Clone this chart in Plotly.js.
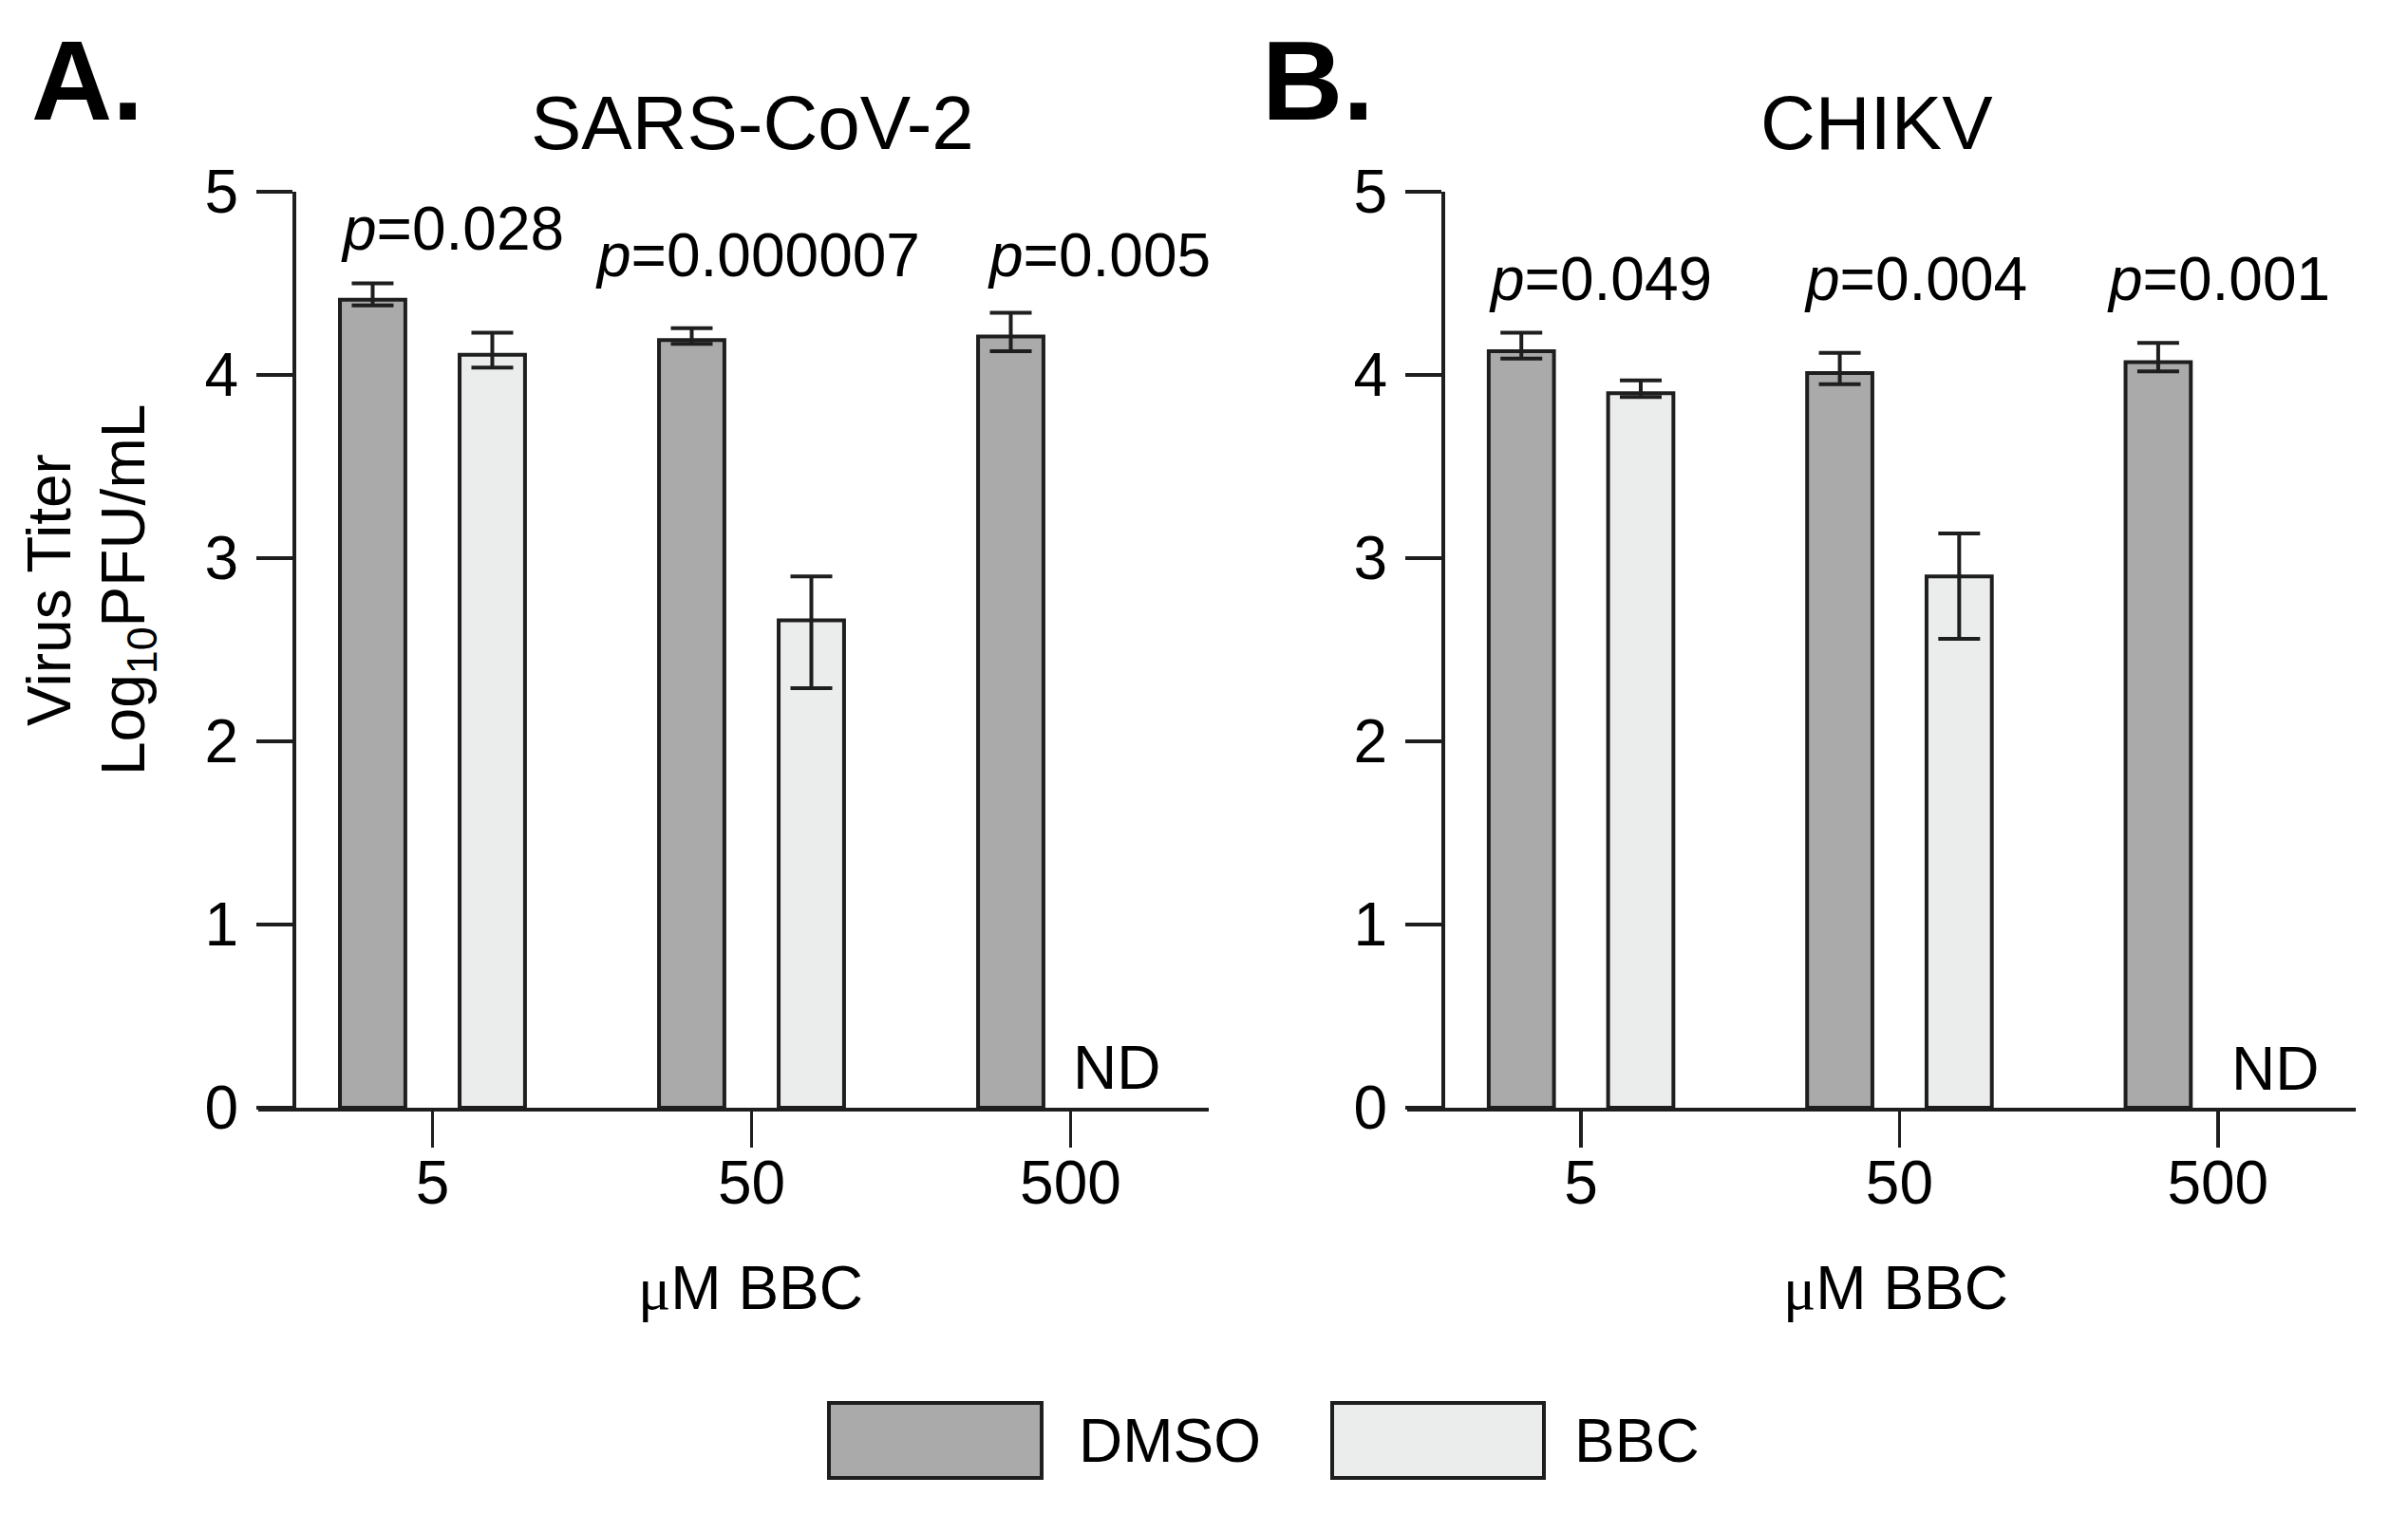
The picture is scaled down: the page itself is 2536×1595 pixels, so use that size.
<!DOCTYPE html>
<html>
<head>
<meta charset="utf-8">
<script src="https://cdn.plot.ly/plotly-3.0.1.min.js"></script>
<style>html,body{margin:0;padding:0;background:#fff;}#chart{width:2536px;height:1595px;}</style>
</head>
<body>
<div id="chart"></div>
<script>
// ---- data ----
const categories = ['5', '50', '500'];
const seriesNames = ['DMSO', 'BBC'];

const sarsDMSO      = [4.41, 4.19, 4.21];
const sarsDMSOUp    = [0.09, 0.065, 0.13];
const sarsDMSODown  = [0.03, 0.02, 0.08];
const sarsBBC       = [4.11, 2.66, null];
const sarsBBCUp     = [0.12, 0.24, null];
const sarsBBCDown   = [0.07, 0.37, null];
const sarsP         = ['0.028', '0.000007', '0.005'];

const chikDMSO      = [4.13, 4.01, 4.07];
const chikDMSOUp    = [0.10, 0.11, 0.105];
const chikDMSODown  = [0.04, 0.06, 0.05];
const chikBBC       = [3.90, 2.90, null];
const chikBBCUp     = [0.07, 0.235, null];
const chikBBCDown   = [0.02, 0.34, null];
const chikP         = ['0.049', '0.004', '0.001'];

const panelTitles = ['SARS-CoV-2', 'CHIKV'];
const panelLetters = ['A.', 'B.'];
const xTitle = '<span style="font-family:\'Liberation Serif\',serif">\u03bc</span>M BBC';
const yTitleLine1 = 'Virus Titer';
const yTitleLine2 = 'Log<sub>10</sub>PFU/mL';
const ndLabel = 'ND';

// ---- style ----
const W = 2536, H = 1595;
const FONT = 'Arial, "Liberation Sans", Helvetica, sans-serif';
const INK = '#1e1e1e';
const colDMSO = '#aaaaaa';
const colBBC = '#ebedec';
const px = v => v / W;
const py = v => 1 - v / H;

const barW = 0.205;
const offDMSO = -0.29;
const offBBC = 0.085;

function barTrace(name, y, up, down, color, xa, ya, off) {
  return {
    type: 'bar', name: name, x: categories, y: y,
    xaxis: xa, yaxis: ya, width: barW, offset: off,
    marker: {color: color, line: {color: INK, width: 4}},
    error_y: {type: 'data', symmetric: false, array: up, arrayminus: down,
              color: INK, thickness: 4, width: 22, visible: true},
    showlegend: false, hoverinfo: 'skip'
  };
}

const data = [
  barTrace(seriesNames[0], sarsDMSO, sarsDMSOUp, sarsDMSODown, colDMSO, 'x', 'y', offDMSO),
  barTrace(seriesNames[1], sarsBBC, sarsBBCUp, sarsBBCDown, colBBC, 'x', 'y', offBBC),
  barTrace(seriesNames[0], chikDMSO, chikDMSOUp, chikDMSODown, colDMSO, 'x2', 'y2', offDMSO),
  barTrace(seriesNames[1], chikBBC, chikBBCUp, chikBBCDown, colBBC, 'x2', 'y2', offBBC)
];

const tickFont = {family: FONT, size: 64, color: '#000'};
const xRange = [-0.546, 2.433];

function xAxis(domain, anchor) {
  return {
    domain: domain, anchor: anchor, type: 'category', range: xRange,
    showline: true, linecolor: INK, linewidth: 4,
    ticks: 'outside', ticklen: 38, tickwidth: 3.5, tickcolor: INK,
    tickfont: tickFont, showgrid: false, zeroline: false,
    fixedrange: true, ticklabelstandoff: -18
  };
}
function yAxis(pos) {
  return {
    domain: [py(1167), py(202)], anchor: 'free', position: pos,
    range: [0, 5], tickvals: [0, 1, 2, 3, 4, 5],
    showline: true, linecolor: INK, linewidth: 3.5,
    ticks: 'outside', ticklen: 38, tickwidth: 3.5, tickcolor: INK,
    tickfont: tickFont, showgrid: false, zeroline: false,
    fixedrange: true, ticklabelstandoff: 6
  };
}

const annotations = [];
function ann(text, x, y, size, opts) {
  annotations.push(Object.assign({
    text: text, xref: 'paper', yref: 'paper', x: px(x), y: py(y),
    xanchor: 'center', yanchor: 'middle', showarrow: false,
    font: {family: FONT, size: size, color: '#000'}
  }, opts || {}));
}

// panel letters & titles
ann('<b>' + panelLetters[0] + '</b>', 92, 85, 118);
ann('<b>' + panelLetters[1] + '</b>', 1388, 85, 118);
ann(panelTitles[0], 792, 129, 80);
ann(panelTitles[1], 1976, 129, 80);
// axis titles
ann(yTitleLine1, 52, 622, 64, {textangle: -90});
ann(yTitleLine2, 134, 622, 64, {textangle: -90});
ann(xTitle, 790, 1357, 64);
ann(xTitle, 1996, 1357, 64);
// ND labels
ann(ndLabel, 1176, 1125, 64);
ann(ndLabel, 2396, 1126, 64);

// p-values (placed in data coordinates of each panel)
const sarsPx = [0.064, 1.019, 2.088];
const sarsPy = [4.80, 4.653, 4.653];
const chikPx = [0.060, 1.051, 2.003];
const chikPy = [4.523, 4.523, 4.523];
function pAnn(label, xv, yv, xr, yr) {
  annotations.push({
    text: '<i>p</i>=' + label, xref: xr, yref: yr, x: xv, y: yv,
    xanchor: 'center', yanchor: 'middle', showarrow: false,
    font: {family: FONT, size: 64, color: '#000'}
  });
}
sarsP.forEach((p, i) => pAnn(p, sarsPx[i], sarsPy[i], 'x', 'y'));
chikP.forEach((p, i) => pAnn(p, chikPx[i], chikPy[i], 'x2', 'y2'));

// legend (drawn manually)
const shapes = [
  {type: 'rect', xref: 'paper', yref: 'paper', x0: px(873), x1: px(1097), y0: py(1557), y1: py(1478),
   fillcolor: colDMSO, line: {color: INK, width: 4}},
  {type: 'rect', xref: 'paper', yref: 'paper', x0: px(1403), x1: px(1626), y0: py(1557), y1: py(1478),
   fillcolor: colBBC, line: {color: INK, width: 4}}
];
ann(seriesNames[0], 1134, 1518, 64, {xanchor: 'left'});
ann(seriesNames[1], 1656, 1518, 64, {xanchor: 'left'});

const layout = {
  width: W, height: H,
  margin: {l: 0, r: 0, t: 0, b: 0, pad: 0},
  paper_bgcolor: '#fff', plot_bgcolor: 'rgba(0,0,0,0)',
  font: {family: FONT, color: '#000'},
  barmode: 'overlay', showlegend: false,
  xaxis: xAxis([px(272), px(1273)], 'y'),
  yaxis: yAxis(px(309)),
  xaxis2: xAxis([px(1482), px(2481)], 'y2'),
  yaxis2: yAxis(px(1519)),
  annotations: annotations,
  shapes: shapes
};

Plotly.newPlot('chart', data, layout, {displayModeBar: false, staticPlot: true});
</script>
</body>
</html>
